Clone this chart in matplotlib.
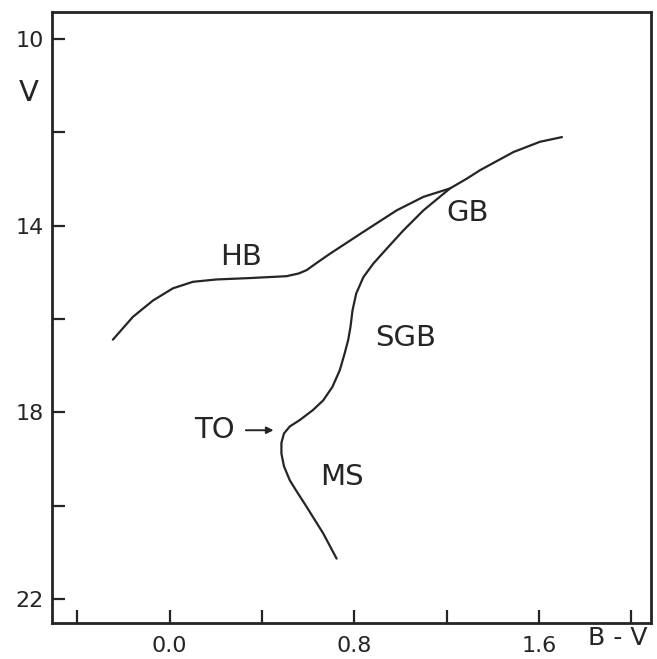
import matplotlib
matplotlib.use("Agg")
import matplotlib.pyplot as plt

# Main sequence -> turn-off -> subgiant branch -> giant branch (B-V, V)
main_bv = [0.723, 0.665, 0.593, 0.545, 0.520, 0.495, 0.484, 0.484, 0.495, 0.520,
           0.564, 0.620, 0.665, 0.705, 0.737, 0.757, 0.773, 0.783, 0.792, 0.808,
           0.839, 0.882, 0.940, 1.012, 1.099, 1.214, 1.287, 1.344, 1.489, 1.604,
           1.699]
main_v = [21.13, 20.59, 20.02, 19.65, 19.45, 19.15, 18.88, 18.65, 18.45, 18.30,
          18.16, 17.95, 17.74, 17.45, 17.09, 16.75, 16.45, 16.17, 15.81, 15.45,
          15.10, 14.81, 14.49, 14.10, 13.67, 13.20, 12.99, 12.81, 12.42, 12.20,
          12.10]

# Horizontal branch joining the giant branch
hb_bv = [-0.246, -0.159, -0.072, 0.014, 0.101, 0.203, 0.347, 0.506, 0.560,
         0.593, 0.650, 0.694, 0.839, 0.983, 1.099, 1.214]
hb_v = [16.44, 15.95, 15.60, 15.34, 15.20, 15.15, 15.12, 15.08, 15.02,
        14.95, 14.75, 14.60, 14.13, 13.67, 13.38, 13.20]

x_ticks = [-0.4, 0.0, 0.4, 0.8, 1.2, 1.6, 2.0]
x_labels = ["", "0.0", "", "0.8", "", "1.6", ""]
y_ticks = [10, 12, 14, 16, 18, 20, 22]
y_labels = ["10", "", "14", "", "18", "", "22"]

labels = ["HB", "GB", "SGB", "TO", "MS"]
label_bv = [0.31, 1.29, 1.02, 0.195, 0.745]
label_v = [14.67, 13.73, 16.41, 18.38, 19.38]

ink = "#252525"

fig = plt.figure(figsize=(6.57, 6.59), dpi=100)
ax = fig.add_axes([0.079, 0.0546, 0.912, 0.9272])

ax.plot(main_bv, main_v, color=ink, lw=1.6, solid_capstyle="round",
        solid_joinstyle="round")
ax.plot(hb_bv, hb_v, color=ink, lw=1.6, solid_capstyle="round",
        solid_joinstyle="round")

for t, bx, vy in zip(labels, label_bv, label_v):
    ax.text(bx, vy, t, fontsize=21, color=ink, ha="center", va="center",
            family="DejaVu Sans")

# arrow pointing to the turn-off
ax.annotate("", xy=(0.45, 18.38), xytext=(0.33, 18.38),
            arrowprops=dict(arrowstyle="-|>", color=ink, lw=1.4,
                            mutation_scale=10, shrinkA=0, shrinkB=0))

ax.set_xlim(-0.51, 2.085)
ax.set_ylim(22.51, 9.42)

ax.set_xticks(x_ticks)
ax.set_xticklabels(x_labels)
ax.set_yticks(y_ticks)
ax.set_yticklabels(y_labels)
ax.tick_params(axis="both", direction="in", length=9.5, width=1.6,
               colors=ink, labelsize=16, labelcolor=ink)
ax.tick_params(axis="x", pad=9)
ax.tick_params(axis="y", pad=6)

for s in ax.spines.values():
    s.set_linewidth(2.0)
    s.set_color(ink)

fig.text(29 / 657, 1 - 93 / 659, "V", fontsize=21, color=ink,
         ha="center", va="center")
fig.text(618 / 657, 1 - 638 / 659, "B - V", fontsize=18, color=ink,
         ha="center", va="center")

fig.savefig("out.png", dpi=100, facecolor="white")
